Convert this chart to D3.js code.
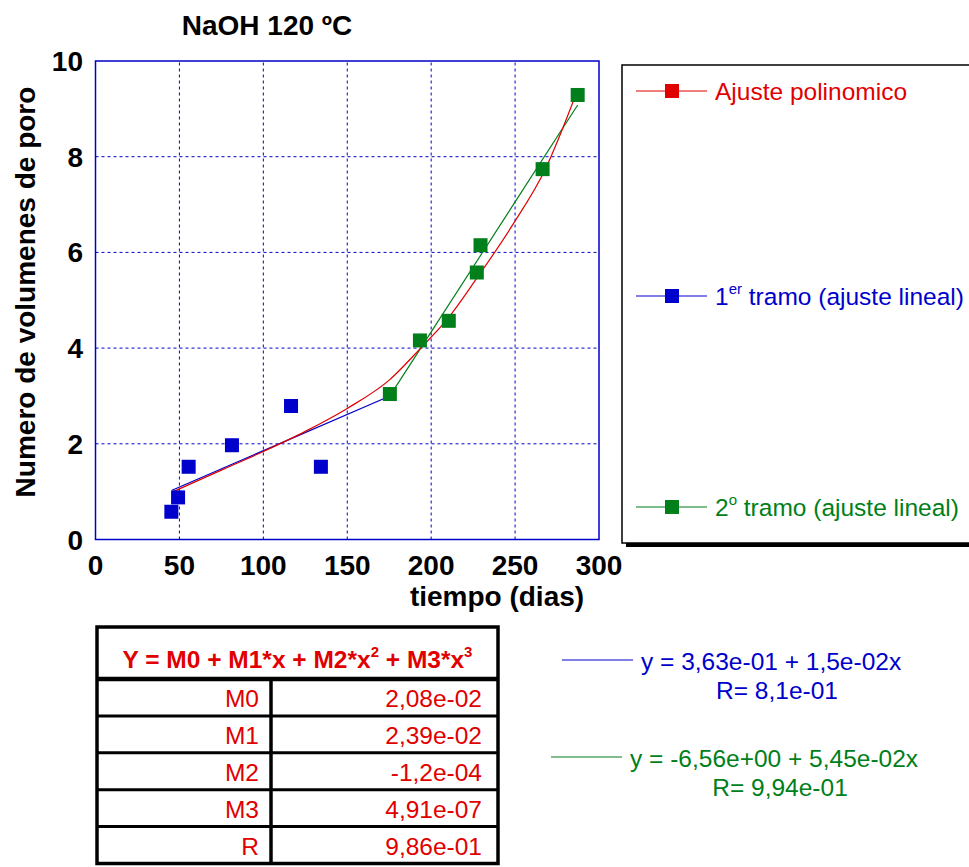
<!DOCTYPE html>
<html>
<head>
<meta charset="utf-8">
<script src="https://cdn.jsdelivr.net/npm/d3@7"></script>
<style>
  body { margin: 0; background: #fff; }
  svg text { font-family: "Liberation Sans", Arial, sans-serif; }
</style>
</head>
<body>
<div id="chart"></div>
<script>
// measured points: tiempo (dias) vs numero de volumenes de poro
const tramo1X = [45.2, 49.2, 55.5, 81.3, 116.5, 134.3];
const tramo1Y = [0.58, 0.88, 1.52, 1.97, 2.79, 1.52];
const tramo2X = [175.4, 193.3, 210.5, 227.2, 229.4, 266.4, 287.3];
const tramo2Y = [3.04, 4.16, 4.57, 5.58, 6.15, 7.74, 9.29];

// fitted lines
const fit1X = [45.6, 175.4];
const fit1Y = [1.03, 3.0];
const fit2X = [175.4, 287.3];
const fit2Y = [3.0, 9.08];
const polyX = [45.6, 75, 100, 125, 150, 175, 193.5, 210, 227, 249, 268, 286];
const polyY = [0.99, 1.45, 1.84, 2.26, 2.74, 3.33, 3.99, 4.62, 5.45, 6.6, 7.74, 9.28];

const xTicks = [0, 50, 100, 150, 200, 250, 300];
const yTicks = [0, 2, 4, 6, 8, 10];

const tableNames = ['M0', 'M1', 'M2', 'M3', 'R'];
const tableValues = ['2,08e-02', '2,39e-02', '-1,2e-04', '4,91e-07', '9,86e-01'];

const RED = '#e00000';
const BLUE = '#0000cc';
const GREEN = '#007f1a';

const width = 969, height = 867;
const svg = d3.select('#chart').append('svg')
    .attr('width', width)
    .attr('height', height);

const x = d3.scaleLinear().domain([0, 300]).range([95.5, 599]);
const y = d3.scaleLinear().domain([0, 10]).range([539.5, 61]);

// grid
const grid = svg.append('g');
grid.selectAll('line.v')
    .data(xTicks.filter(d => d > 0 && d < 300))
    .enter().append('line')
    .attr('x1', d => x(d)).attr('x2', d => x(d))
    .attr('y1', y(0)).attr('y2', y(10))
    .attr('stroke', BLUE).attr('stroke-width', 1)
    .attr('stroke-dasharray', '3,3');
grid.selectAll('line.h')
    .data(yTicks.filter(d => d > 0 && d < 10))
    .enter().append('line')
    .attr('y1', d => y(d)).attr('y2', d => y(d))
    .attr('x1', x(0)).attr('x2', x(300))
    .attr('stroke', BLUE).attr('stroke-width', 1)
    .attr('stroke-dasharray', '3,3');

// plot frame
svg.append('rect')
    .attr('x', x(0)).attr('y', y(10))
    .attr('width', x(300) - x(0)).attr('height', y(0) - y(10))
    .attr('fill', 'none').attr('stroke', BLUE).attr('stroke-width', 1.5);

// tick labels
svg.append('g').selectAll('text')
    .data(xTicks).enter().append('text')
    .attr('x', d => x(d)).attr('y', 575)
    .attr('text-anchor', 'middle')
    .style('font-size', '28px').style('font-weight', 'bold')
    .text(d => d);
svg.append('g').selectAll('text')
    .data(yTicks).enter().append('text')
    .attr('x', 83).attr('y', d => y(d) + 10)
    .attr('text-anchor', 'end')
    .style('font-size', '28px').style('font-weight', 'bold')
    .text(d => d);

// axis titles
svg.append('text')
    .attr('x', 497).attr('y', 606)
    .attr('text-anchor', 'middle')
    .style('font-size', '28px').style('font-weight', 'bold')
    .text('tiempo (dias)');
svg.append('text')
    .attr('transform', 'translate(35,292) rotate(-90)')
    .attr('text-anchor', 'middle')
    .style('font-size', '28px').style('font-weight', 'bold')
    .text('Numero de volumenes de poro');
svg.append('text')
    .attr('x', 267).attr('y', 35)
    .attr('text-anchor', 'middle')
    .style('font-size', '28px').style('font-weight', 'bold')
    .text('NaOH 120 ºC');

// lines
const zip = (a, b) => a.map((v, i) => [v, b[i]]);
const line = d3.line().x(d => x(d[0])).y(d => y(d[1]));
const curve = d3.line().x(d => x(d[0])).y(d => y(d[1])).curve(d3.curveMonotoneX);

svg.append('path')
    .datum(zip(fit1X, fit1Y))
    .attr('d', line)
    .attr('fill', 'none').attr('stroke', BLUE).attr('stroke-width', 1.2);
svg.append('path')
    .datum(zip(fit2X, fit2Y))
    .attr('d', line)
    .attr('fill', 'none').attr('stroke', GREEN).attr('stroke-width', 1.2);
svg.append('path')
    .datum(zip(polyX, polyY))
    .attr('d', curve)
    .attr('fill', 'none').attr('stroke', RED).attr('stroke-width', 1.2);

// markers
const ms = 14;
svg.append('g').selectAll('rect')
    .data(zip(tramo1X, tramo1Y)).enter().append('rect')
    .attr('x', d => x(d[0]) - ms / 2).attr('y', d => y(d[1]) - ms / 2)
    .attr('width', ms).attr('height', ms)
    .attr('fill', BLUE);
svg.append('g').selectAll('rect')
    .data(zip(tramo2X, tramo2Y)).enter().append('rect')
    .attr('x', d => x(d[0]) - ms / 2).attr('y', d => y(d[1]) - ms / 2)
    .attr('width', ms).attr('height', ms)
    .attr('fill', GREEN);

// legend box with shadow
svg.append('rect')
    .attr('x', 626).attr('y', 69).attr('width', 360).attr('height', 478)
    .attr('fill', '#000');
svg.append('rect')
    .attr('x', 622).attr('y', 65).attr('width', 360).attr('height', 478)
    .attr('fill', '#fff').attr('stroke', '#000').attr('stroke-width', 1.5);

const legendItems = [
    { color: RED, y: 91, main: 'Ajuste polinomico', sup: '', rest: '' },
    { color: BLUE, y: 296, main: '1', sup: 'er', rest: ' tramo (ajuste lineal)' },
    { color: GREEN, y: 507, main: '2', sup: 'o', rest: ' tramo (ajuste lineal)' }
];
const lg = svg.append('g').selectAll('g')
    .data(legendItems).enter().append('g')
    .attr('transform', d => 'translate(0,' + d.y + ')');
lg.append('line')
    .attr('x1', 636).attr('x2', 707)
    .attr('stroke', d => d.color).attr('stroke-width', 1.2);
lg.append('rect')
    .attr('x', 665).attr('y', -7).attr('width', 14).attr('height', 14)
    .attr('fill', d => d.color);
const lt = lg.append('text')
    .attr('x', 715).attr('y', 9)
    .attr('fill', d => d.color)
    .style('font-size', '24.5px');
lt.append('tspan').text(d => d.main);
lt.append('tspan').attr('dy', -11).style('font-size', '15px').text(d => d.sup);
lt.append('tspan').attr('dy', 11).text(d => d.rest);

// coefficient table
const tX = 97, tY = 627, tW = 401, headH = 52, rowH = 36.9, colX = 271;
const tbl = svg.append('g');
tbl.append('rect')
    .attr('x', tX).attr('y', tY).attr('width', tW).attr('height', headH + rowH * tableNames.length)
    .attr('fill', '#fff').attr('stroke', '#000').attr('stroke-width', 3.5);
const hdr = tbl.append('text')
    .attr('x', tX + tW / 2).attr('y', tY + 41)
    .attr('text-anchor', 'middle')
    .attr('fill', RED)
    .style('font-size', '24.5px').style('font-weight', 'bold');
hdr.append('tspan').text('Y = M0 + M1*x + M2*x');
hdr.append('tspan').attr('dy', -11).style('font-size', '15px').text('2');
hdr.append('tspan').attr('dy', 11).text(' + M3*x');
hdr.append('tspan').attr('dy', -11).style('font-size', '15px').text('3');

tbl.selectAll('line.row')
    .data(tableNames).enter().append('line')
    .attr('x1', tX).attr('x2', tX + tW)
    .attr('y1', (d, i) => tY + headH + i * rowH)
    .attr('y2', (d, i) => tY + headH + i * rowH)
    .attr('stroke', '#000').attr('stroke-width', (d, i) => i === 0 ? 4.5 : 3);
tbl.append('line')
    .attr('x1', colX).attr('x2', colX)
    .attr('y1', tY + headH).attr('y2', tY + headH + rowH * tableNames.length)
    .attr('stroke', '#000').attr('stroke-width', 3.5);
tbl.selectAll('text.name')
    .data(tableNames).enter().append('text')
    .attr('x', colX - 12)
    .attr('y', (d, i) => tY + headH + i * rowH + 28)
    .attr('text-anchor', 'end').attr('fill', RED)
    .style('font-size', '24.5px')
    .text(d => d);
tbl.selectAll('text.val')
    .data(tableValues).enter().append('text')
    .attr('x', tX + tW - 16)
    .attr('y', (d, i) => tY + headH + i * rowH + 28)
    .attr('text-anchor', 'end').attr('fill', RED)
    .style('font-size', '24.5px')
    .text(d => d);

// linear fit equations
const eqs = [
    { color: BLUE, lx1: 562, lx2: 633, ly: 660, eq: 'y = 3,63e-01 + 1,5e-02x', r: 'R= 8,1e-01', rx: 777 },
    { color: GREEN, lx1: 551, lx2: 622, ly: 757, eq: 'y = -6,56e+00 + 5,45e-02x', r: 'R= 9,94e-01', rx: 780 }
];
const eg = svg.append('g').selectAll('g')
    .data(eqs).enter().append('g');
eg.append('line')
    .attr('x1', d => d.lx1).attr('x2', d => d.lx2)
    .attr('y1', d => d.ly).attr('y2', d => d.ly)
    .attr('stroke', d => d.color).attr('stroke-width', 1);
eg.append('text')
    .attr('x', d => d.lx2 + 8).attr('y', d => d.ly + 10)
    .attr('fill', d => d.color)
    .style('font-size', '24.5px')
    .text(d => d.eq);
eg.append('text')
    .attr('x', d => d.rx).attr('y', d => d.ly + 39)
    .attr('text-anchor', 'middle')
    .attr('fill', d => d.color)
    .style('font-size', '24.5px')
    .text(d => d.r);
</script>
</body>
</html>
